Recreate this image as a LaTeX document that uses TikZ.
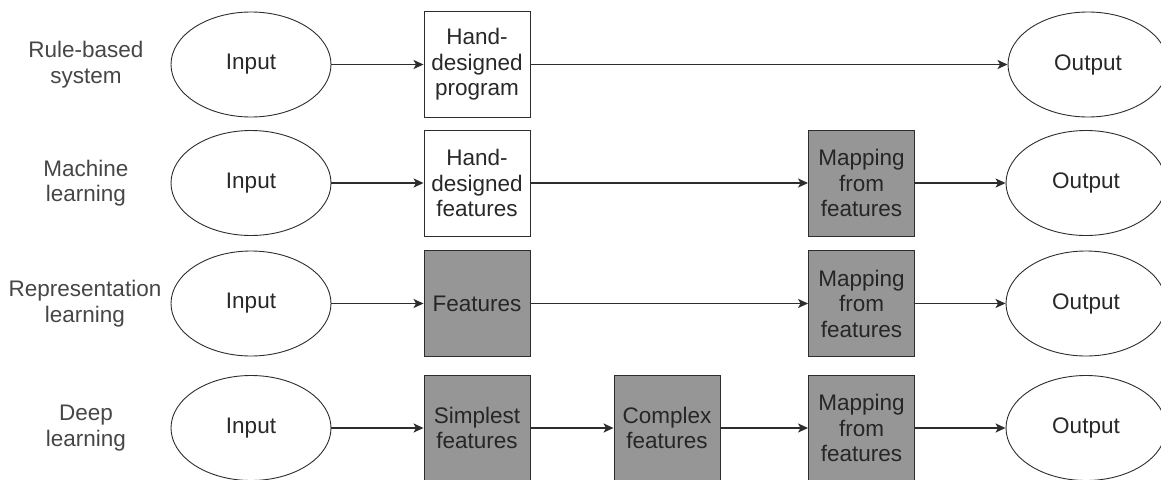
\documentclass[tikz,border=0pt]{standalone}
\usepackage{fontspec}
\setmainfont{Liberation Sans}
\usetikzlibrary{shapes.geometric,arrows.meta}
\definecolor{txt}{RGB}{40,40,40}
\definecolor{lbl}{RGB}{70,70,70}
\definecolor{edge}{RGB}{45,45,45}
\definecolor{boxfill}{RGB}{150,150,150}
\begin{document}
\begin{tikzpicture}[x=1pt,y=-1pt,
  font=\fontsize{22.5}{25.5}\selectfont,
  oval/.style={ellipse,draw=edge,line width=0.9pt,minimum width=160pt,minimum height=105pt,inner sep=0pt,text=txt},
  plainbox/.style={rectangle,draw=edge,line width=0.9pt,minimum width=106pt,minimum height=106pt,inner sep=0pt,align=center,text=txt},
  graybox/.style={plainbox,fill=boxfill,text=black!85},
  rowlabel/.style={align=center,text=lbl,inner sep=0pt},
  conn/.style={draw=edge,line width=1.5pt,-{Stealth[length=10pt,width=9pt,inset=2.5pt]}}]
\useasboundingbox (0,0) rectangle (1161,479);
\clip (0,0) rectangle (1161,479);
% row labels
\node[rowlabel] (l1) at (86,64.5) {Rule-based\\system};
\node[rowlabel] (l2) at (86,183) {Machine\\learning};
\node[rowlabel] (l3) at (85,303.5) {Representation\\learning};
\node[rowlabel] (l4) at (86,428) {Deep\\learning};
% row 1
\node[oval] (in1) at (251,64.5) {Input};
\node[plainbox] (p1) at (477,64.5) {Hand-\\designed\\program};
\node[oval] (out1) at (1088,64.5) {Output};
\draw[conn] (in1) -- (p1);
\draw[conn] (p1) -- (out1);
% row 2
\node[oval] (in2) at (251,183) {Input};
\node[plainbox] (f2) at (477,183) {Hand-\\designed\\features};
\node[graybox] (m2) at (861.5,183) {Mapping\\from\\features};
\node[oval] (out2) at (1086,183) {Output};
\draw[conn] (in2) -- (f2);
\draw[conn] (f2) -- (m2);
\draw[conn] (m2) -- (out2);
% row 3
\node[oval] (in3) at (251,303.5) {Input};
\node[graybox] (f3) at (477,303.5) {Features};
\node[graybox] (m3) at (861.5,303.5) {Mapping\\from\\features};
\node[oval] (out3) at (1086,303.5) {Output};
\draw[conn] (in3) -- (f3);
\draw[conn] (f3) -- (m3);
\draw[conn] (m3) -- (out3);
% row 4
\node[oval] (in4) at (251,428) {Input};
\node[graybox] (s4) at (477,428) {Simplest\\features};
\node[graybox] (c4) at (667,428) {Complex\\features};
\node[graybox] (m4) at (861.5,428) {Mapping\\from\\features};
\node[oval] (out4) at (1086,428) {Output};
\draw[conn] (in4) -- (s4);
\draw[conn] (s4) -- (c4);
\draw[conn] (c4) -- (m4);
\draw[conn] (m4) -- (out4);
\end{tikzpicture}
\end{document}
